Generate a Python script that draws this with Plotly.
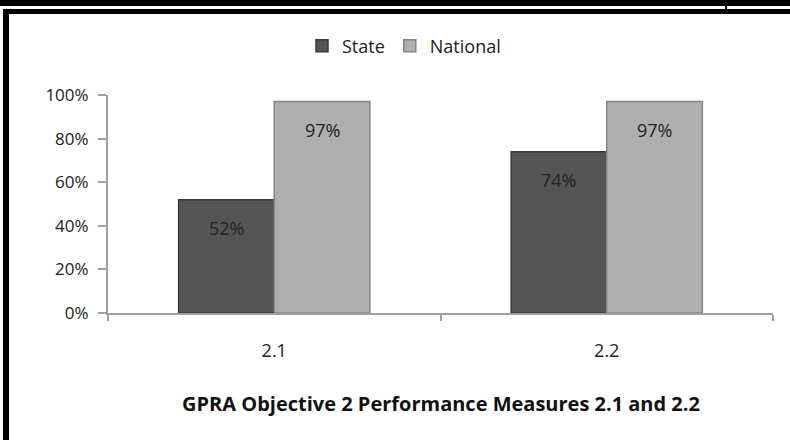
import plotly.graph_objects as go

# chart data
categories = ["2.1", "2.2"]
state = [0.52, 0.74]
national = [0.97, 0.97]
series_names = ["State", "National"]
y_ticks = [0, 0.2, 0.4, 0.6, 0.8, 1.0]
y_tick_labels = ["0%", "20%", "40%", "60%", "80%", "100%"]

FONT = "Open Sans"
TXT = "#222222"

fig = go.Figure()

fig.add_trace(go.Bar(
    x=categories, y=state, name=series_names[0],
    marker=dict(color="#555555", line=dict(color="#3a3a3a", width=1.5)),
))
fig.add_trace(go.Bar(
    x=categories, y=national, name=series_names[1],
    marker=dict(color="#afafaf", line=dict(color="#858585", width=1.5)),
))

# value labels just below the top of each bar
# (category index used as x, numeric-looking names confuse annotations)
bar_shift = 48
for vals, shift in [(state, -bar_shift), (national, bar_shift)]:
    for i, v in enumerate(vals):
        fig.add_annotation(
            x=i, y=v, xref="x", yref="y", text=f"{round(v * 100)}%",
            showarrow=False, xshift=shift, yshift=-28,
            font=dict(family=FONT, size=18, color=TXT),
        )

# plot area in pixels: x 108..773, y 95..313
def px_x(x):
    return (x - 108) / 665

def px_y(y):
    return (313 - y) / 218

# x axis title
fig.add_annotation(
    x=0.5, y=px_y(419), xref="paper", yref="paper", showarrow=False,
    text="<b>GPRA Objective 2 Performance Measures 2.1 and 2.2</b>",
    font=dict(family=FONT, size=20, color="#111111"),
)

# outer frame like the pasted screenshot
frame = dict(xref="paper", yref="paper", line=dict(width=0), fillcolor="#000000", layer="above")
fig.add_shape(type="rect", x0=px_x(0), x1=px_x(790), y0=px_y(0), y1=px_y(6), **frame)
fig.add_shape(type="rect", x0=px_x(3), x1=px_x(790), y0=px_y(9), y1=px_y(14), **frame)
fig.add_shape(type="rect", x0=px_x(3), x1=px_x(9), y0=px_y(9), y1=px_y(440), **frame)
fig.add_shape(type="rect", x0=px_x(725), x1=px_x(727), y0=px_y(0), y1=px_y(9), **frame)

fig.update_layout(
    width=790, height=440,
    margin=dict(l=108, r=17, t=95, b=127, autoexpand=False),
    paper_bgcolor="white", plot_bgcolor="white",
    barmode="group", bargap=0.425, bargroupgap=0,
    font=dict(family=FONT, size=18, color=TXT),
    legend=dict(orientation="h", x=px_x(404), y=px_y(46), xanchor="center", yanchor="middle",
                font=dict(family=FONT, size=18, color=TXT), itemwidth=30),
    showlegend=True,
)
fig.update_xaxes(
    type="category", automargin=False,
    showline=True, linecolor="#a0a0a0", linewidth=2,
    ticks="outside", tickson="boundaries", ticklen=6, tickcolor="#a0a0a0", tickwidth=2,
    ticklabelstandoff=20, tickfont=dict(family=FONT, size=18, color=TXT),
)
fig.update_yaxes(
    range=[0, 1], tickvals=y_ticks, ticktext=y_tick_labels, automargin=False,
    showline=True, linecolor="#a0a0a0", linewidth=2, showgrid=False, zeroline=False,
    ticks="outside", ticklen=8, tickcolor="#a0a0a0", tickwidth=2,
    ticklabelstandoff=6, tickfont=dict(family=FONT, size=17, color=TXT),
)

# drop the default page margin so the figure sits at the window's corner
fig.write_html("out.html", config={"displayModeBar": False},
               post_script="document.body.style.margin='0';")
